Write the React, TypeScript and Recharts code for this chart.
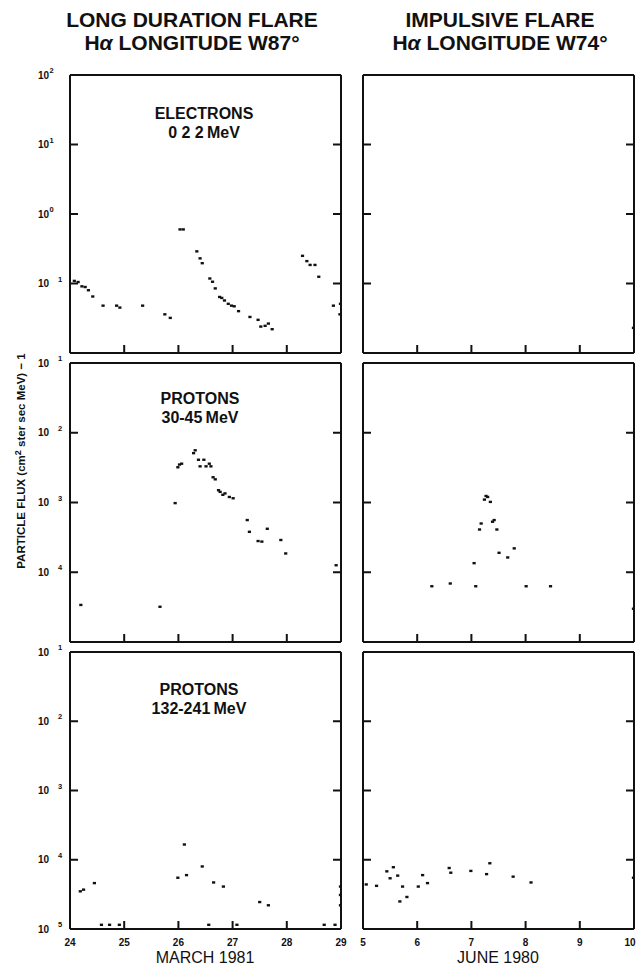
import React from 'react'
import { ScatterChart, Scatter, XAxis, YAxis } from 'recharts'

const FONT = '"Liberation Sans", Arial, Helvetica, sans-serif'

// x ticks (days of month)
const marchTicks = [24, 25, 26, 27, 28, 29]
const juneTicks = [5, 6, 7, 8, 9, 10]

// y decades
const electronDecades = [0.01, 0.1, 1, 10, 100]
const protonDecades = [1e-5, 1e-4, 1e-3, 1e-2, 1e-1]
const electronLabeled = [100, 10, 1, 0.1]
const proton30Labeled = [0.1, 0.01, 0.001, 1e-4]
const proton132Labeled = [0.1, 0.01, 0.001, 1e-4, 1e-5]

// electrons 0.22 MeV, March 1981
const electronMarchDays = [
  24.08, 24.15, 24.22, 24.28, 24.34, 24.42, 24.61, 24.86, 24.92, 25.34, 25.75, 25.85,
  26.03, 26.09, 26.34, 26.4, 26.44, 26.58, 26.63, 26.68, 26.76, 26.8, 26.85, 26.92,
  26.98, 27.03, 27.11, 27.32, 27.47, 27.52, 27.6, 27.66, 27.73, 28.29, 28.37, 28.43,
  28.52, 28.59, 28.86, 28.98, 28.99,
]
const electronMarchFlux = [
  0.109, 0.105, 0.091, 0.089, 0.08, 0.065, 0.048, 0.048, 0.045, 0.048, 0.036, 0.032,
  0.6, 0.6, 0.29, 0.23, 0.196, 0.118, 0.106, 0.085, 0.064, 0.062, 0.057, 0.051,
  0.048, 0.047, 0.04, 0.033, 0.03, 0.024, 0.0246, 0.0265, 0.022, 0.25, 0.21, 0.185,
  0.185, 0.125, 0.048, 0.036, 0.051,
]

// electrons, June 1980
const electronJuneDays = [9.99]
const electronJuneFlux = [0.023]

// protons 30-45 MeV, March 1981
const proton30MarchDays = [
  24.2, 25.66, 25.94, 25.99, 26.02, 26.06, 26.28, 26.31, 26.37, 26.4, 26.47, 26.51,
  26.57, 26.6, 26.64, 26.68, 26.74, 26.77, 26.82, 26.86, 26.94, 27.01, 27.27, 27.31,
  27.47, 27.54, 27.64, 27.89, 27.98, 28.91,
]
const proton30MarchFlux = [
  3.4e-5, 3.2e-5, 9.8e-4, 3.2e-3, 3.5e-3, 3.6e-3, 5.1e-3, 5.6e-3, 4.1e-3, 3.3e-3, 4.1e-3, 3.3e-3,
  3.6e-3, 3.3e-3, 2.3e-3, 2.15e-3, 1.5e-3, 1.42e-3, 1.29e-3, 1.35e-3, 1.2e-3, 1.15e-3, 5.6e-4, 3.8e-4,
  2.8e-4, 2.75e-4, 4.2e-4, 2.9e-4, 1.86e-4, 1.26e-4,
]

// protons 30-45 MeV, June 1980
const proton30JuneDays = [
  6.27, 6.61, 7.08, 7.05, 7.15, 7.18, 7.24, 7.27, 7.3, 7.35, 7.39, 7.42,
  7.47, 7.51, 7.67, 7.79, 8.01, 8.46, 9.99,
]
const proton30JuneFlux = [
  6.3e-5, 6.9e-5, 6.3e-5, 1.35e-4, 4.1e-4, 5.0e-4, 1.1e-3, 1.24e-3, 1.2e-3, 1.02e-3, 5.3e-4, 5.6e-4,
  4.1e-4, 1.9e-4, 1.63e-4, 2.2e-4, 6.3e-5, 6.3e-5, 3.0e-5,
]

// protons 132-241 MeV, March 1981
const proton132MarchDays = [
  24.19, 24.25, 24.45, 25.99, 26.11, 26.15, 26.44, 26.65, 26.83, 27.5, 27.66,
  28.99, 28.99, 28.99, 24.58, 24.73, 24.91, 26.56, 27.08, 28.69, 28.89,
]
const proton132MarchFlux = [
  3.5e-5, 3.7e-5, 4.6e-5, 5.5e-5, 1.66e-4, 6.0e-5, 8.0e-5, 4.7e-5, 4.1e-5, 2.45e-5, 2.2e-5,
  4.1e-5, 3.1e-5, 2.2e-5, 1.15e-5, 1.15e-5, 1.15e-5, 1.15e-5, 1.15e-5, 1.15e-5, 1.15e-5,
]

// protons 132-241 MeV, June 1980
const proton132JuneDays = [
  5.06, 5.25, 5.44, 5.5, 5.56, 5.64, 5.73, 5.81, 6.02, 6.1, 6.19, 6.59,
  6.62, 6.99, 7.28, 7.34, 7.77, 8.1, 5.68, 9.99,
]
const proton132JuneFlux = [
  4.4e-5, 4.2e-5, 6.8e-5, 5.4e-5, 7.8e-5, 5.9e-5, 4.1e-5, 2.9e-5, 4.1e-5, 6.0e-5, 4.6e-5, 7.6e-5,
  6.5e-5, 6.9e-5, 6.2e-5, 8.9e-5, 5.7e-5, 4.7e-5, 2.5e-5, 5.5e-5,
]

const pts = (days: number[], flux: number[]) => days.map((x, i) => ({ x, y: flux[i] }))

const LW = 60
const RW = 12
const TH = 14
const BH = 30
const TICK = 8
const INK = '#111'

const Dot = (p: any) => (
  <rect x={p.cx - 1.6} y={p.cy - 1.2} width={3.2} height={2.4} fill={INK} />
)

// ticks are drawn inward by the tick renderers themselves
const makeLeftTick = (labeled: number[] | null) => (props: any) => {
  const { x, y, payload } = props
  const v = payload.value
  const show = labeled && labeled.some((l) => Math.abs(Math.log10(l) - Math.log10(v)) < 0.01)
  const exp = Math.round(Math.log10(v))
  const neg = exp < 0
  return (
    <g>
      <line x1={x} x2={x + TICK} y1={y} y2={y} stroke={INK} strokeWidth={2} />
      {show && (
        <>
          <text x={x - 21} y={y + 3.5} textAnchor="end" fontSize={10} fontWeight="bold" fontFamily={FONT} fill={INK}>
            10
          </text>
          <text x={neg ? x - 12 : x - 20.5} y={y - 2} fontSize={7.5} fontWeight="bold" fontFamily={FONT} fill={INK}>
            {Math.abs(exp)}
          </text>
        </>
      )}
    </g>
  )
}

const RightTick = (props: any) => {
  const { x, y } = props
  return <line x1={x - TICK} x2={x} y1={y} y2={y} stroke={INK} strokeWidth={2} />
}

const TopTick = (props: any) => {
  const { x, y } = props
  return <line x1={x} x2={x} y1={y} y2={y + TICK} stroke={INK} strokeWidth={2} />
}

const makeBottomTick = (showLabel: boolean) => (props: any) => {
  const { x, y, payload } = props
  const lx = payload.value === 10 ? x - 4 : x
  return (
    <g>
      <line x1={x} x2={x} y1={y - TICK} y2={y} stroke={INK} strokeWidth={2} />
      {showLabel && (
        <text x={lx} y={y + 17} textAnchor="middle" fontSize={10} fontWeight="bold" fontFamily={FONT} fill={INK}>
          {payload.value}
        </text>
      )}
    </g>
  )
}

interface PanelProps {
  left: number
  top: number
  plotW: number
  plotH: number
  xTicks: number[]
  yTicks: number[]
  labeled: number[] | null
  showX: boolean
  data: { x: number; y: number }[]
}

function Panel({ left, top, plotW, plotH, xTicks, yTicks, labeled, showX, data }: PanelProps) {
  const xDomain = [xTicks[0], xTicks[xTicks.length - 1]]
  const yDomain = [yTicks[0], yTicks[yTicks.length - 1]]
  const axisProps = { stroke: INK, strokeWidth: 2 }
  return (
    <div style={{ position: 'absolute', left: left - LW, top: top - TH }}>
      <ScatterChart
        width={LW + plotW + RW}
        height={TH + plotH + BH}
        margin={{ top: 0, right: 0, bottom: 0, left: 0 }}
      >
        <XAxis
          xAxisId="b"
          type="number"
          dataKey="x"
          domain={xDomain}
          ticks={xTicks}
          interval={0}
          allowDataOverflow
          height={BH}
          tickSize={0}
          tickMargin={0}
          axisLine={axisProps}
          tickLine={false}
          tick={makeBottomTick(showX)}
        />
        <XAxis
          xAxisId="t"
          orientation="top"
          type="number"
          domain={xDomain}
          ticks={xTicks}
          interval={0}
          allowDataOverflow
          height={TH}
          tickSize={0}
          tickMargin={0}
          axisLine={axisProps}
          tickLine={false}
          tick={TopTick}
        />
        <YAxis
          yAxisId="l"
          type="number"
          dataKey="y"
          scale="log"
          domain={yDomain}
          ticks={yTicks}
          interval={0}
          allowDataOverflow
          width={LW}
          tickSize={0}
          tickMargin={0}
          axisLine={axisProps}
          tickLine={false}
          tick={makeLeftTick(labeled)}
        />
        <YAxis
          yAxisId="r"
          orientation="right"
          type="number"
          scale="log"
          domain={yDomain}
          ticks={yTicks}
          interval={0}
          allowDataOverflow
          width={RW}
          tickSize={0}
          tickMargin={0}
          axisLine={axisProps}
          tickLine={false}
          tick={RightTick}
        />
        <Scatter xAxisId="b" yAxisId="l" data={data} shape={Dot} isAnimationActive={false} />
      </ScatterChart>
    </div>
  )
}

const textStyle = { fontFamily: FONT, fill: INK }

export default function App() {
  const L = 70
  const R = 363
  const W = 271
  return (
    <div style={{ position: 'absolute', left: 0, top: 0, width: 637, height: 968, background: '#fff', overflow: 'hidden' }}>
      <Panel left={L} top={75} plotW={W} plotH={278} xTicks={marchTicks} yTicks={electronDecades} labeled={electronLabeled} showX={false} data={pts(electronMarchDays, electronMarchFlux)} />
      <Panel left={R} top={75} plotW={W} plotH={278} xTicks={juneTicks} yTicks={electronDecades} labeled={null} showX={false} data={pts(electronJuneDays, electronJuneFlux)} />
      <Panel left={L} top={363} plotW={W} plotH={279} xTicks={marchTicks} yTicks={protonDecades} labeled={proton30Labeled} showX={false} data={pts(proton30MarchDays, proton30MarchFlux)} />
      <Panel left={R} top={363} plotW={W} plotH={279} xTicks={juneTicks} yTicks={protonDecades} labeled={null} showX={false} data={pts(proton30JuneDays, proton30JuneFlux)} />
      <Panel left={L} top={652} plotW={W} plotH={277} xTicks={marchTicks} yTicks={protonDecades} labeled={proton132Labeled} showX data={pts(proton132MarchDays, proton132MarchFlux)} />
      <Panel left={R} top={652} plotW={W} plotH={277} xTicks={juneTicks} yTicks={protonDecades} labeled={null} showX data={pts(proton132JuneDays, proton132JuneFlux)} />

      <svg width={637} height={968} style={{ position: 'absolute', left: 0, top: 0, pointerEvents: 'none' }}>
        <g style={textStyle} fontWeight="bold" fontSize={21} textAnchor="middle">
          <text x={192} y={27}>LONG DURATION FLARE</text>
          <text x={192} y={50}>
            H<tspan fontStyle="italic">α</tspan> LONGITUDE W87°
          </text>
          <text x={500} y={27}>IMPULSIVE FLARE</text>
          <text x={500} y={50}>
            H<tspan fontStyle="italic">α</tspan> LONGITUDE W74°
          </text>
        </g>
        <g style={textStyle} fontSize={16} fontWeight="bold" textAnchor="middle">
          <text x={204} y={119}>ELECTRONS</text>
          <text x={204} y={138}>0 2 2{'\u2009'}MeV</text>
          <text x={200} y={404}>PROTONS</text>
          <text x={200} y={423}>30-45{'\u2009'}MeV</text>
          <text x={199} y={695}>PROTONS</text>
          <text x={199} y={714}>132-241{'\u2009'}MeV</text>
        </g>
        <g style={textStyle} fontSize={16} textAnchor="middle">
          <text x={205} y={963}>MARCH 1981</text>
          <text x={498} y={963}>JUNE 1980</text>
        </g>
        <text
          style={textStyle}
          fontSize={11.5}
          fontWeight="bold"
          textAnchor="middle"
          transform="rotate(-90 25 461)"
          x={25}
          y={461}
        >
          PARTICLE FLUX (cm<tspan dy={-4} fontSize={9}>2</tspan>
          <tspan dy={4}> ster sec MeV)</tspan> − 1
        </text>
      </svg>
    </div>
  )
}
